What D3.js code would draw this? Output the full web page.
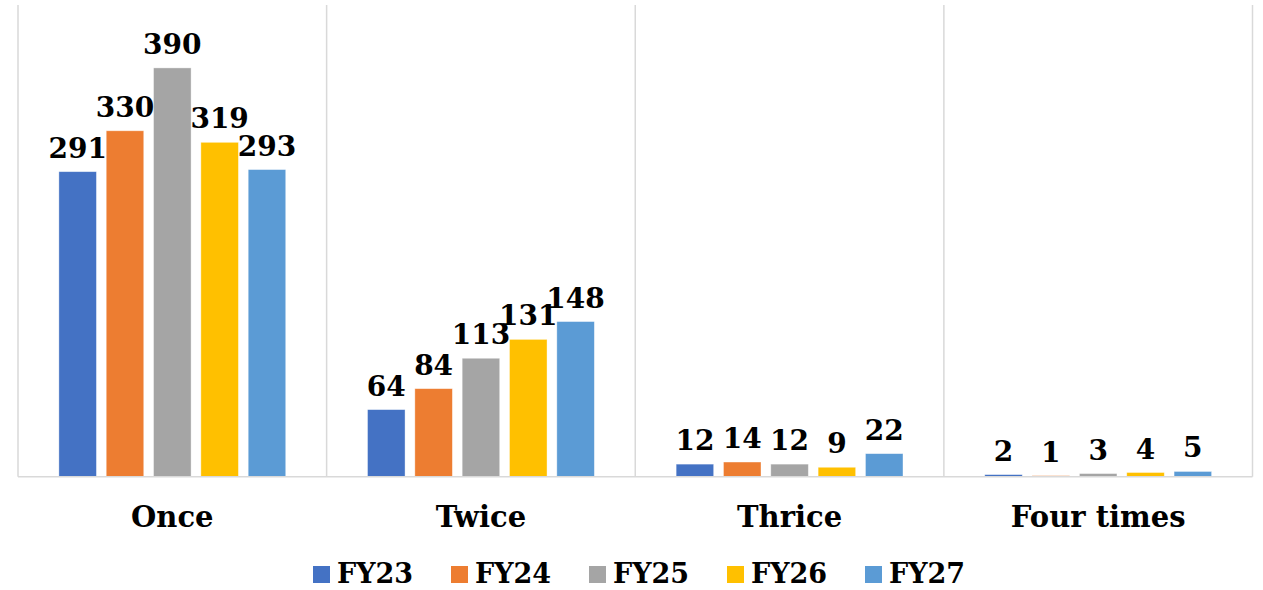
<!DOCTYPE html>
<html>
<head>
<meta charset="utf-8">
<script src="https://cdn.jsdelivr.net/npm/d3@7"></script>
<style>
  body { margin: 0; background: #fff; }
  text { font-family: Georgia, "DejaVu Serif", serif; font-weight: bold; fill: #000; }
</style>
</head>
<body>
<div id="chart"></div>
<script>
const categories = ["Once", "Twice", "Thrice", "Four times"];
const seriesNames = ["FY23", "FY24", "FY25", "FY26", "FY27"];
const fy23 = [291, 64, 12, 2];
const fy24 = [330, 84, 14, 1];
const fy25 = [390, 113, 12, 3];
const fy26 = [319, 131, 9, 4];
const fy27 = [293, 148, 22, 5];
const colors = ["#4472C4", "#ED7D31", "#A5A5A5", "#FFC000", "#5B9BD5"];

const values = [fy23, fy24, fy25, fy26, fy27];

const width = 1263;
const height = 590;
const margin = {left: 18, right: 10.5, top: 5, bottom: 113.3};

const svg = d3.select("#chart").append("svg")
    .attr("width", width)
    .attr("height", height);

// scales
const x0 = d3.scaleBand()
    .domain(categories)
    .range([margin.left, width - margin.right])
    .padding(0);
const x1 = d3.scaleBand()
    .domain(seriesNames)
    .range([0, x0.bandwidth()])
    .paddingInner(0.207)
    .paddingOuter(0.864);
const y = d3.scaleLinear()
    .domain([0, 450])
    .range([height - margin.bottom, margin.top]);
const yB = height - margin.bottom;

// vertical separators between categories
const seps = categories.map(c => x0(c)).concat([x0(categories[categories.length - 1]) + x0.bandwidth()]);
svg.append("g").selectAll("line")
    .data(seps)
    .join("line")
    .attr("x1", d => d).attr("x2", d => d)
    .attr("y1", margin.top).attr("y2", yB)
    .attr("stroke", "#d9d9d9")
    .attr("stroke-width", 1.5);

// bars + labels
const groups = svg.append("g").selectAll("g")
    .data(categories)
    .join("g")
    .attr("transform", d => "translate(" + x0(d) + ",0)");

groups.selectAll("rect")
    .data((c, i) => seriesNames.map((s, j) => ({s: s, v: values[j][i], color: colors[j]})))
    .join("rect")
    .attr("x", d => x1(d.s))
    .attr("width", x1.bandwidth())
    .attr("y", d => y(d.v))
    .attr("height", d => yB - y(d.v))
    .attr("fill", d => d.color)
    .attr("stroke", "#fff")
    .attr("stroke-opacity", 0.5)
    .attr("stroke-width", 0.75);

groups.selectAll("text")
    .data((c, i) => seriesNames.map((s, j) => ({s: s, v: values[j][i]})))
    .join("text")
    .attr("x", d => x1(d.s) + x1.bandwidth() / 2)
    .attr("y", d => y(d.v) - 14)
    .attr("text-anchor", "middle")
    .attr("font-size", 28)
    .text(d => d.v);

// baseline
svg.append("line")
    .attr("x1", margin.left).attr("x2", width - margin.right)
    .attr("y1", yB).attr("y2", yB)
    .attr("stroke", "#d9d9d9")
    .attr("stroke-width", 1.5);

// category axis labels
const xAxis = d3.axisBottom(x0).tickSize(0).tickPadding(0);
const ax = svg.append("g")
    .attr("transform", "translate(0," + yB + ")")
    .call(xAxis);
ax.select(".domain").remove();
ax.selectAll("text")
    .attr("y", 50)
    .attr("dy", null)
    .attr("font-size", 29)
    .attr("font-family", null)
    .style("font-family", "Georgia, 'DejaVu Serif', serif")
    .style("font-weight", "bold");

// legend
const legX = d3.scaleBand()
    .domain(seriesNames)
    .range([313, 313 + 138 * 5]);
const leg = svg.append("g").selectAll("g")
    .data(seriesNames)
    .join("g")
    .attr("transform", d => "translate(" + legX(d) + ",566)");
leg.append("rect")
    .attr("width", 17).attr("height", 17)
    .attr("fill", (d, i) => colors[i]);
leg.append("text")
    .attr("x", 24)
    .attr("y", 17)
    .attr("font-size", 27)
    .text(d => d);
</script>
</body>
</html>
